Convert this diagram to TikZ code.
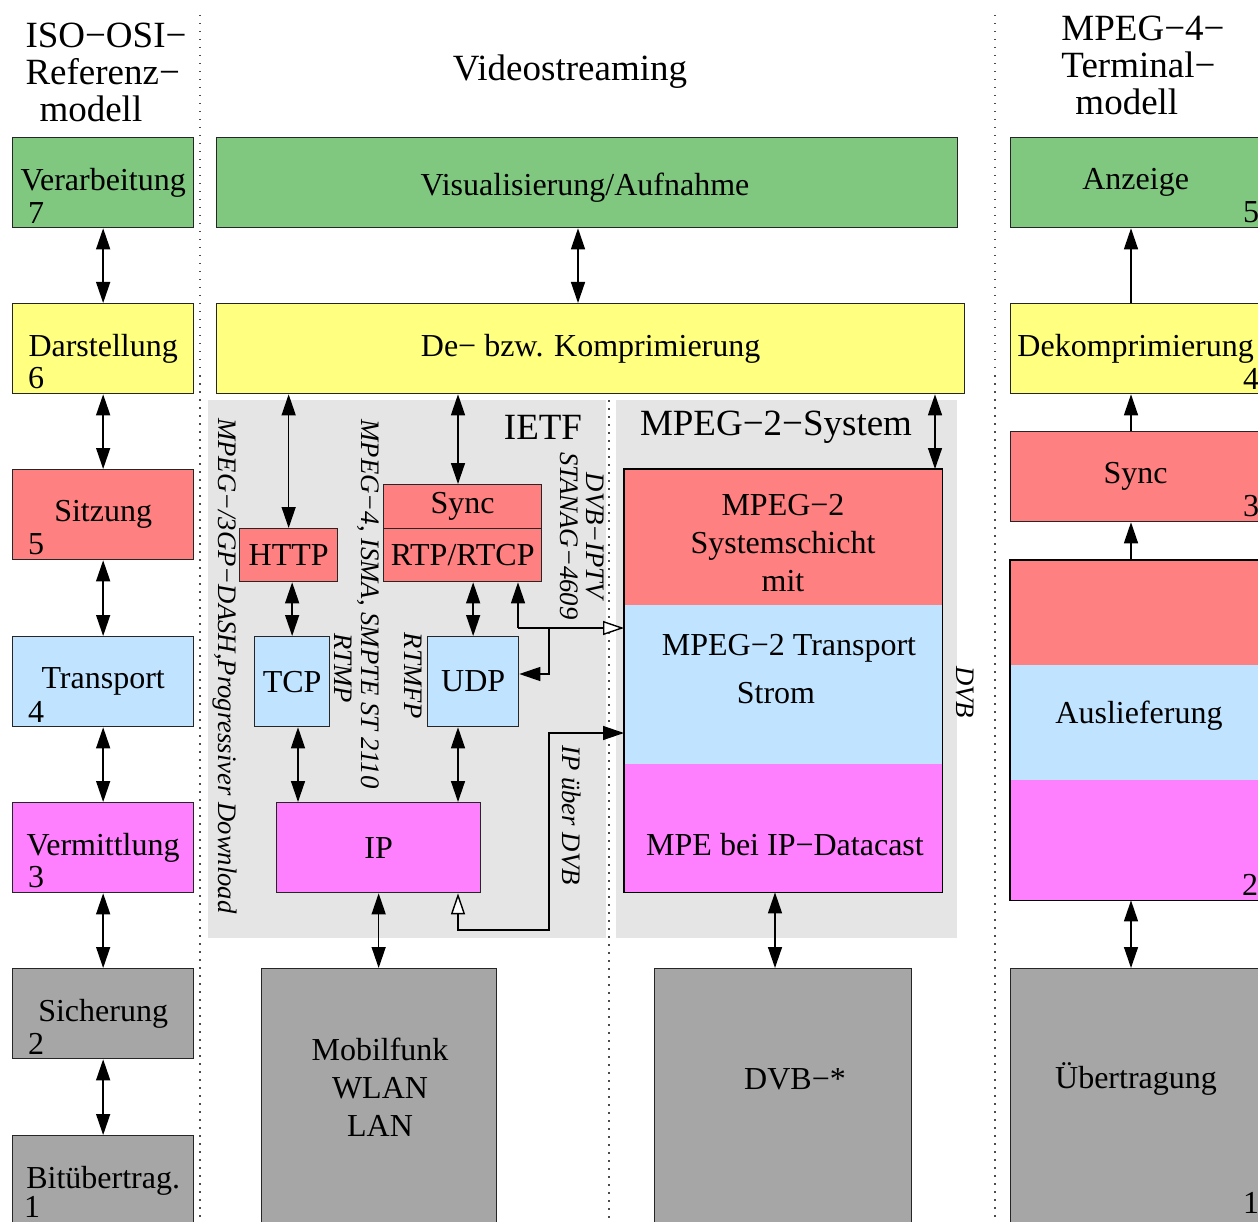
\documentclass[tikz,border=0pt]{standalone}
\usepackage{fontspec}
\setmainfont{Liberation Serif}
\usetikzlibrary{arrows.meta}

\definecolor{lgreen}{RGB}{128,200,128}
\definecolor{lyellow}{RGB}{255,255,128}
\definecolor{lred}{RGB}{255,128,128}
\definecolor{lblue}{RGB}{192,228,255}
\definecolor{lmagenta}{RGB}{255,128,255}
\definecolor{lgray}{RGB}{166,166,166}
\definecolor{bggray}{RGB}{229,229,229}

\newcommand{\boxfont}{\fontsize{32}{38}\selectfont}
\newcommand{\headfont}{\fontsize{37}{37}\selectfont}
\newcommand{\notefont}{\fontsize{26.7}{26}\selectfont\itshape}

\tikzset{
  layer/.style={draw=black!85, line width=1.3pt, inner sep=0pt, anchor=north west, align=center, font=\boxfont},
  part/.style={inner sep=0pt, anchor=north west, align=center, font=\boxfont},
  osi/.style={layer, minimum width=181pt, minimum height=90pt},
  term/.style={layer, minimum width=250pt},
  num/.style={inner sep=0pt, font=\boxfont},
  lnum/.style={label={[num, anchor=south west, xshift=16pt, yshift=5pt]south west:#1}},
  rnum/.style={label={[num, anchor=south east, xshift=-2pt, yshift=5pt]south east:#1}},
  txt/.style={align=center, font=\boxfont, inner sep=0pt},
  note/.style={rotate=-90, inner sep=0pt, align=center, font=\notefont},
  sep/.style={line width=1.5pt, dash pattern=on 1.5pt off 6.5pt, black!70},
  conn/.style={line width=1.4pt, black},
  >={Triangle[length=21pt,width=14pt]}
}

\begin{document}
\begin{tikzpicture}[x=1pt,y=-1pt]
\useasboundingbox (0,0) rectangle (1258,1222);
\clip (0,0) rectangle (1258,1222);

% grey areas and column separators
\fill[bggray] (208,400) rectangle (606,938);
\fill[bggray] (616,400) rectangle (957,938);
\draw[sep] (200,15) -- (200,1222);
\draw[sep] (609,400) -- (609,1222);
\draw[sep] (995,15) -- (995,1222);

% headings
\node[align=left, font=\headfont, inner sep=0pt] (osihead) at (106,72) {ISO−OSI−\\Referenz−\\\hspace*{14pt}modell};
\node[font=\headfont, inner sep=0pt] (vshead) at (570,72) {Videostreaming};
\node[align=left, font=\headfont, inner sep=0pt] (m4head) at (1143,65) {MPEG−4−\\Terminal−\\\hspace*{14pt}modell};

% ISO-OSI
\node[osi, fill=lgreen, lnum=7] (o7) at (12,137) {Verarbeitung};
\node[osi, fill=lyellow, lnum=6] (o6) at (12,303) {Darstellung};
\node[osi, fill=lred, lnum=5] (o5) at (12,469) {Sitzung};
\node[osi, fill=lblue, lnum=4] (o4) at (12,636) {Transport};
\node[osi, fill=lmagenta, lnum=3] (o3) at (12,802) {Vermittlung};
\node[osi, fill=lgray, lnum=2] (o2) at (12,968) {Sicherung};
\node[osi, fill=lgray, label={[num, anchor=south west, xshift=12pt, yshift=9pt]south west:1}] (o1) at (12,1135) {Bitübertrag.};
\foreach \a/\b in {o7/o6,o6/o5,o5/o4,o4/o3,o3/o2,o2/o1}
  \draw[conn,<->] (\a) -- (\b);

% Videostreaming
\node[layer, fill=lgreen, minimum width=741pt, minimum height=90pt] (vis) at (216,137) {};
\node[txt] (vistxt) at (585,188) {Visualisierung/Aufnahme};
\node[layer, fill=lyellow, minimum width=748pt, minimum height=90pt] (kom) at (216,303) {De− bzw. Komprimierung};
\node[font=\headfont, inner sep=0pt] (ietf) at (543,427) {IETF};
\node[font=\headfont, inner sep=0pt] (mpsyshead) at (776,427) {MPEG−2−System};
\node[layer, fill=lred, minimum width=98pt, minimum height=53pt] (http) at (239,528) {HTTP};
\node[layer, fill=lred, minimum width=158pt, minimum height=44pt] (sync) at (383,484) {Sync};
\node[layer, fill=lred, minimum width=158pt, minimum height=53pt] (rtp) at (383,528) {RTP/RTCP};
\node[layer, fill=lblue, minimum width=75pt, minimum height=90pt] (tcp) at (254,636) {TCP};
\node[layer, fill=lblue, minimum width=91pt, minimum height=90pt] (udp) at (427,636) {UDP};
\node[layer, fill=lmagenta, minimum width=204pt, minimum height=90pt] (ip) at (276,802) {IP};

\node[part, fill=lred, minimum width=318pt, minimum height=136pt] (mpsys) at (624,469) {};
\node[part, fill=lblue, minimum width=318pt, minimum height=159pt] (mpts) at (624,605) {};
\node[part, fill=lmagenta, minimum width=318pt, minimum height=128pt] (mpe) at (624,764) {};
\draw[conn] (mpsys.north west) rectangle (mpe.south east);
\node[txt] (mpsystxt) at (783,543) {MPEG−2\\Systemschicht\\mit};
\node[txt] (tsa) at (789,648) {MPEG−2 Transport};
\node[txt] (tsb) at (776,693) {Strom};
\node[txt] (ipdc) at (785,845) {MPE bei IP−Datacast};

\node[layer, fill=lgray, minimum width=235pt, minimum height=270pt] (mob) at (261,968) {};
\node[txt] (mobtxt) at (380,1087) {Mobilfunk\\WLAN\\LAN};
\node[layer, fill=lgray, minimum width=257pt, minimum height=270pt] (dvb) at (654,968) {};
\node[txt] (dvbtxt) at (795,1079) {DVB−*};

\node[note] (dash) at (225,666) {MPEG−/3GP−DASH,Progressiver Download};
\node[note] (mp4) at (368,604) {MPEG−4, ISMA, SMPTE ST 2110};
\node[note] (rtmp) at (343,668) {RTMP};
\node[note] (rtmfp) at (413,676) {RTMFP};
\node[note] (iptv) at (582,536) {DVB−IPTV\\STANAG−4609};
\node[note] (ipdvb) at (572,815) {IP über DVB};
\node[note] (dvbnote) at (965,692) {DVB};

\draw[conn,<->] (578,0 |- vis.south) -- (578,0 |- kom.north);
\draw[conn,<->] (kom.south -| http.north) -- (http.north);
\draw[conn,<->] (http.south -| tcp.north) -- (tcp.north);
\draw[conn,<->] (298,0 |- tcp.south) -- (298,0 |- ip.north);
\draw[conn,<->] (458,0 |- kom.south) -- (458,0 |- sync.north);
\draw[conn,<->] (rtp.south -| udp.north) -- (udp.north);
\draw[conn,<->] (458,0 |- udp.south) -- (458,0 |- ip.north);
\draw[conn,<->] (ip.south) -- (ip.south |- mob.north);
\draw[conn,<->] (935,0 |- kom.south) -- (935,0 |- mpsys.north);
\draw[conn,<->] (775,0 |- mpe.south) -- (775,0 |- dvb.north);

\coordinate (j1) at (518,628);
\coordinate (j2) at (549,628);
\coordinate (j3) at (549,674);
\coordinate (j4) at (549,733);
\draw[conn,->] (j1) -- (518,0 |- rtp.south);
\draw[conn,-{Triangle[length=21pt,width=14pt,fill=white]}] (j1) -- (j1 -| mpts.west);
\draw[conn,->] (j2) -- (j3) -- (udp.east |- j3);
\draw[conn,{Triangle[length=21pt,width=14pt,fill=white]}->] (458,0 |- ip.south) -- (458,930) -| (j4) -- (j4 -| mpts.west);

% MPEG-4 terminal
\node[term, fill=lgreen, minimum height=90pt, rnum=5] (anz) at (1010,137) {Anzeige};
\node[term, fill=lyellow, minimum height=90pt, rnum=4] (dkm) at (1010,303) {Dekomprimierung};
\node[term, fill=lred, minimum height=90pt, rnum=3] (tsync) at (1010,431) {Sync};
\node[part, fill=lred, minimum width=250pt, minimum height=105pt] (dela) at (1010,560) {};
\node[part, fill=lblue, minimum width=250pt, minimum height=115pt] (delb) at (1010,665) {};
\node[part, fill=lmagenta, minimum width=250pt, minimum height=120pt, rnum=2] (delc) at (1010,780) {};
\draw[conn] (dela.north west) rectangle (delc.south east);
\node[txt] (deltxt) at (1139,716) {Auslieferung};
\node[term, fill=lgray, minimum height=270pt, label={[num, anchor=south east, xshift=-2pt, yshift=26pt]south east:1}] (uebt) at (1010,968) {};
\node[txt] (uebtxt) at (1136,1079) {Übertragung};

\draw[conn,->] (1131,0 |- dkm.north) -- (1131,0 |- anz.south);
\draw[conn,->] (1131,0 |- tsync.north) -- (1131,0 |- dkm.south);
\draw[conn,->] (1131,0 |- dela.north) -- (1131,0 |- tsync.south);
\draw[conn,<->] (1131,0 |- delc.south) -- (1131,0 |- uebt.north);
\end{tikzpicture}
\end{document}
